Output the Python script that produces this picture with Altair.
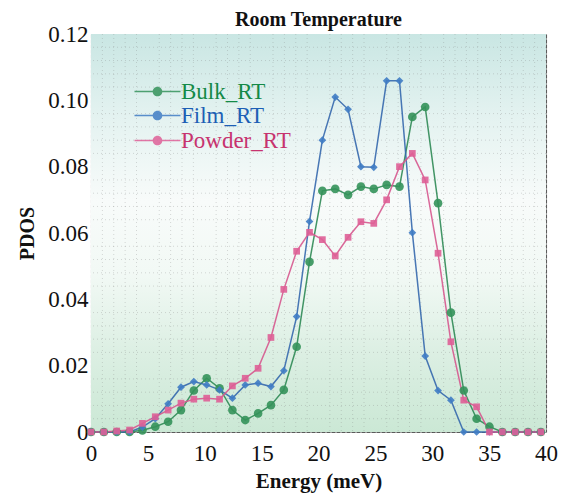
import altair as alt
import pandas as pd

series_names = ["Bulk_RT", "Film_RT", "Powder_RT"]
series_colors = ["#34925a", "#3f7cc4", "#de5f96"]
line_colors = ["#2f8a55", "#3568ad", "#d6588e"]
label_colors = ["#148a47", "#1d5fb5", "#c7336f"]

energy = [0, 1.13, 2.26, 3.39, 4.52, 5.65, 6.78, 7.91, 9.04, 10.17, 11.3, 12.43,
          13.56, 14.69, 15.82, 16.95, 18.08, 19.21, 20.34, 21.47, 22.6, 23.73,
          24.86, 25.99, 27.12, 28.25, 29.38, 30.51, 31.64, 32.77, 33.9, 35.03,
          36.16, 37.29, 38.42, 39.55]

bulk = [0, 0, 0, 0, 0.0005, 0.0016, 0.0031, 0.0066, 0.0125, 0.0162, 0.0132, 0.0066,
        0.0036, 0.0056, 0.0081, 0.0127, 0.0257, 0.0513, 0.0727, 0.0733, 0.0715, 0.074,
        0.0733, 0.0745, 0.074, 0.095, 0.098, 0.069, 0.036, 0.0125, 0.004, 0.0016,
        0, 0, 0, 0]

film = [0, 0, 0, 0, 0.0015, 0.004, 0.0085, 0.0135, 0.0152, 0.0142, 0.0127, 0.0102,
        0.0142, 0.0147, 0.0137, 0.0185, 0.0348, 0.0635, 0.088, 0.101, 0.0973, 0.080,
        0.0798, 0.1059, 0.1059, 0.0601, 0.0229, 0.0125, 0.0096, 0, 0, 0,
        0, 0, 0, 0]

powder = [0, 0, 0.0003, 0.0006, 0.0026, 0.0046, 0.0066, 0.0087, 0.0099, 0.0102, 0.0099, 0.0139,
          0.0162, 0.0192, 0.0285, 0.043, 0.0545, 0.0602, 0.058, 0.0531, 0.0587, 0.0634,
          0.0629, 0.070, 0.080, 0.084, 0.076, 0.0539, 0.0272, 0.0096, 0.0076, 0,
          0, 0, 0, 0]

x_ticks = [0, 5, 10, 15, 20, 25, 30, 35, 40]
y_ticks = [0, 0.02, 0.04, 0.06, 0.08, 0.10, 0.12]

rows = []
for name, vals in zip(series_names, [bulk, film, powder]):
    for e, v in zip(energy, vals):
        rows.append({"Energy": e, "PDOS": v, "Series": name})
df = pd.DataFrame(rows)

minor_e = [v for v in range(1, 40) if v % 5 != 0]
minor_v = [round(i * 0.004, 3) for i in range(1, 30) if i % 5 != 0]

FONT = "Liberation Serif"

x_scale = alt.Scale(domain=[0, 40], nice=False)
y_scale = alt.Scale(domain=[0, 0.12], nice=False)

x_axis = alt.Axis(values=x_ticks, title="Energy (meV)", labelFont=FONT, labelFontSize=23,
                  labelColor="#111", titleFont=FONT, titleFontSize=21, titleFontWeight="bold",
                  titleColor="#111", labelPadding=10, titlePadding=5, ticks=False, domain=False,
                  grid=True, gridColor="#444", gridWidth=1.1, gridDash=[4, 1], gridOpacity=0.85,
                  labelFlush=False)
y_axis = alt.Axis(values=y_ticks, title="PDOS", labelFont=FONT, labelFontSize=23,
                  labelColor="#111", titleFont=FONT, titleFontSize=20, titleFontWeight="bold",
                  titleColor="#111", labelPadding=3, titlePadding=10, ticks=False, domain=False,
                  grid=True, gridColor="#444", gridWidth=1.1, gridDash=[4, 1], gridOpacity=0.85,
                  labelExpr="datum.value == 0 ? '0' : format(datum.value, '.2f')", labelFlush=False)

one = alt.Data(values=[{"a": 1}])

bg = alt.Chart(one).mark_rect(
    fill=alt.LinearGradient(
        gradient="linear", x1=0, x2=0, y1=0, y2=1,
        stops=[alt.GradientStop(color="#c9e6e3", offset=0),
               alt.GradientStop(color="#e3f2f0", offset=0.2),
               alt.GradientStop(color="#f8fbfa", offset=0.42),
               alt.GradientStop(color="#f2f9f5", offset=0.6),
               alt.GradientStop(color="#dcefe3", offset=0.8),
               alt.GradientStop(color="#cbe8d5", offset=1)])
).encode(x=alt.value(0), x2=alt.value("width"), y=alt.value(0), y2=alt.value("height"))

minor_x = alt.Chart(pd.DataFrame({"e": minor_e})).mark_rule(
    color="#777", strokeWidth=0.8, strokeDash=[1, 3], opacity=0.35
).encode(x=alt.X("e:Q", scale=x_scale, axis=x_axis))

minor_y = alt.Chart(pd.DataFrame({"v": minor_v})).mark_rule(
    color="#777", strokeWidth=0.8, strokeDash=[1, 3], opacity=0.35
).encode(y=alt.Y("v:Q", scale=y_scale, axis=y_axis))

legend_path = ("M-2,-0.07H2V0.07H-2Z "
               "M0.42,0A0.42,0.42 0 1,1 -0.42,0A0.42,0.42 0 1,1 0.42,0Z")

base = alt.Chart(df)

legend_y = [46, 70, 95]
legend_layers = []
for name, col, lcol, ly in zip(series_names, series_colors, label_colors, legend_y):
    lg = alt.Legend(
        title=None, orient="none", legendX=55, legendY=ly, padding=0,
        symbolType=legend_path, symbolSize=529, symbolStrokeWidth=0, symbolOpacity=0.85,
        symbolFillColor=col,
        labelFont=FONT, labelFontSize=23, labelOffset=12, labelColor=lcol,
    )
    layer = base.transform_filter(alt.datum.Series == name).mark_point(
        filled=True, size=1, opacity=0.01
    ).encode(
        x=alt.X("Energy:Q", scale=x_scale, axis=x_axis),
        y=alt.Y("PDOS:Q", scale=y_scale, axis=y_axis),
        color=alt.Color("Series:N", scale=alt.Scale(domain=[name], range=[col]), legend=lg),
    )
    legend_layers.append(layer)

lines = base.mark_line(strokeWidth=1.5, opacity=0.9).encode(
    x=alt.X("Energy:Q", scale=x_scale, axis=x_axis),
    y=alt.Y("PDOS:Q", scale=y_scale, axis=y_axis),
    stroke=alt.Stroke("Series:N", scale=alt.Scale(domain=series_names, range=line_colors),
                      legend=None),
)

points = base.mark_point(filled=True, opacity=0.9).encode(
    x=alt.X("Energy:Q", scale=x_scale, axis=x_axis),
    y=alt.Y("PDOS:Q", scale=y_scale, axis=y_axis),
    fill=alt.Fill("Series:N", scale=alt.Scale(domain=series_names, range=series_colors),
                  legend=None),
    shape=alt.Shape("Series:N", scale=alt.Scale(domain=series_names,
                                                range=["circle", "diamond", "square"]),
                    legend=None),
    size=alt.Size("Series:N", scale=alt.Scale(domain=series_names, range=[75, 45, 90]),
                  legend=None),
)

chart = alt.layer(bg, minor_x, minor_y, *legend_layers, lines, points).resolve_scale(
    color="independent"
).properties(
    width=455, height=398,
    title=alt.TitleParams("Room Temperature", font=FONT, fontSize=20, fontWeight="bold",
                          color="#111", offset=-7, anchor="middle"),
    autosize=alt.AutoSizeParams(type="none"),
    padding={"left": 83, "top": 26, "right": 12, "bottom": 63},
).configure_view(stroke="#3a3a3a", strokeWidth=2.5).configure(background="white")

chart.save("out.html", embed_options={"renderer": "svg", "actions": False})
